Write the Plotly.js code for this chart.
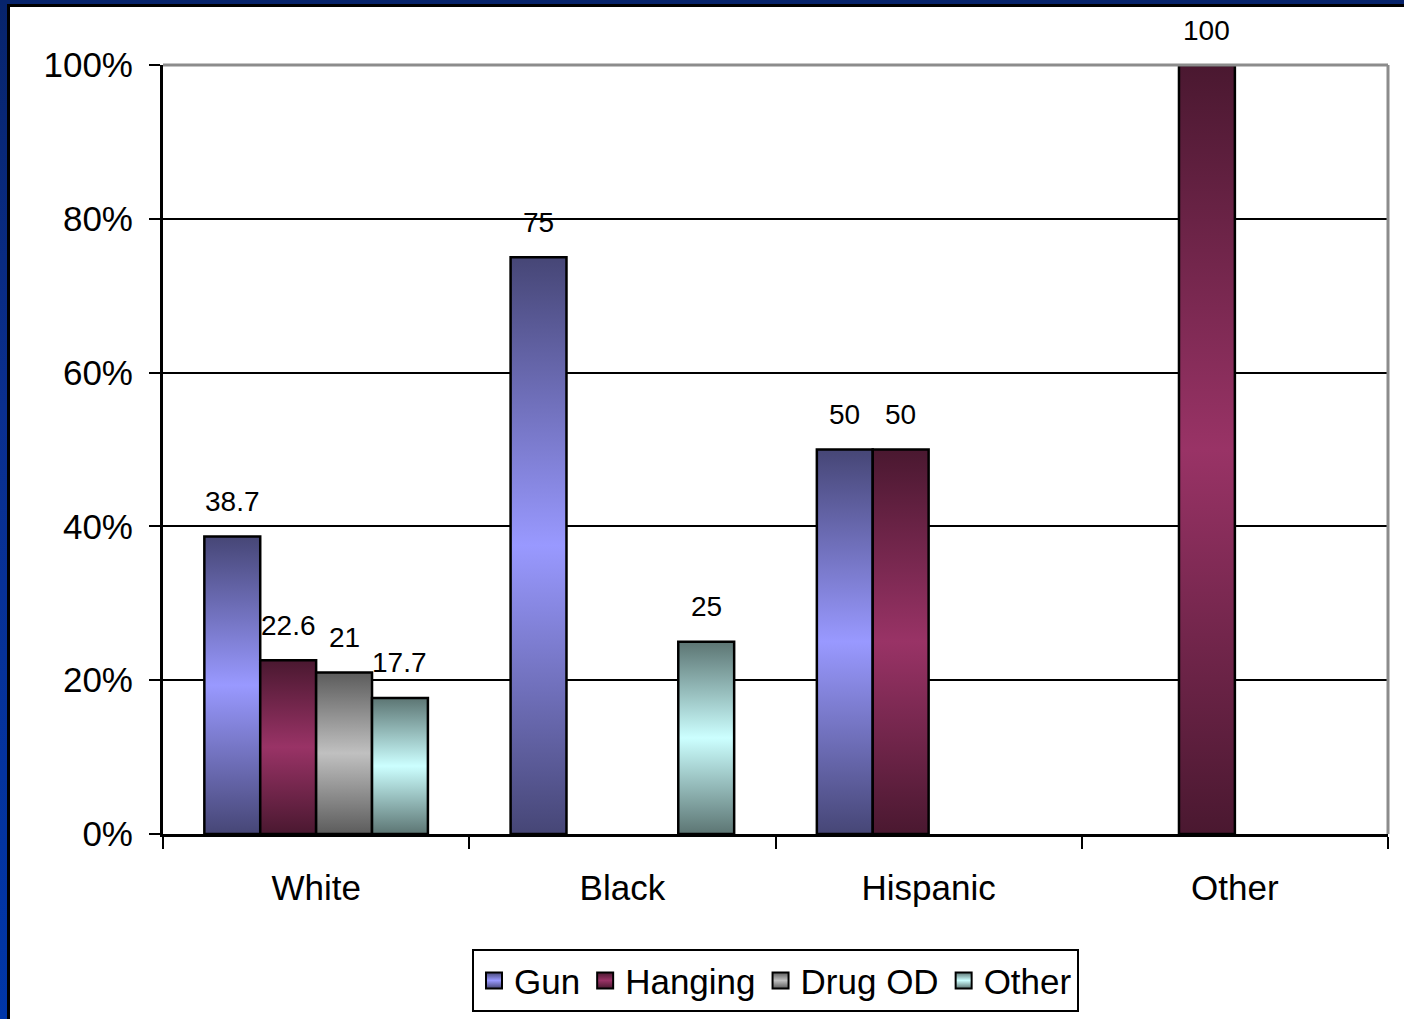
<!DOCTYPE html>
<html>
<head>
<meta charset="utf-8">
<script src="https://cdn.plot.ly/plotly-3.0.1.min.js"></script>
<style>
  html, body { margin: 0; padding: 0; width: 1404px; height: 1019px; overflow: hidden; }
  body { background: linear-gradient(to bottom, #07246c 0%, #0a2f8f 40%, #0036a8 100%); position: relative; }
  #frame { position: absolute; left: 7px; top: 4px; width: 1397px; height: 1015px;
           border-left: 3px solid #000; border-top: 3px solid #000; background: #fff; }
  #chart { position: absolute; left: 0; top: 0; width: 1394px; height: 1012px; }
</style>
</head>
<body>
<div id="frame"><div id="chart"></div></div>
<script>
// ---- data ----
const categories = ["White", "Black", "Hispanic", "Other"];
const seriesNames = ["Gun", "Hanging", "Drug OD", "Other"];
const gunValues     = [38.7, 75, 50, null];
const hangingValues = [22.6, null, 50, 100];
const drugValues    = [21, null, null, null];
const otherValues   = [17.7, 25, null, null];
const yTickValues = [0, 20, 40, 60, 80, 100];
const yTickLabels = ["0%", "20%", "40%", "60%", "80%", "100%"];

// ---- styles ----
const seriesValues = [gunValues, hangingValues, drugValues, otherValues];
const lightColors = ["#9999ff", "#993366", "#c0c0c0", "#ccffff"];
const darkColors  = ["#464676", "#4a1830", "#5c5c5c", "#5c7573"];
const FONT = "Liberation Sans, Arial, sans-serif";
const bargap = 0.27;

const traces = seriesNames.map((name, i) => ({
  type: "bar",
  name: name,
  x: categories,
  y: seriesValues[i],
  marker: { color: lightColors[i], line: { color: "#000", width: 2.5 } },
  hoverinfo: "none"
}));

const L = 153, R = 16, T = 58, B = 185;
const W = 1394, H = 1012;
const plotW = W - L - R;
const slotPx = plotW / categories.length * (1 - bargap) / seriesNames.length;

const annotations = [];
seriesValues.forEach((vals, i) => {
  vals.forEach((v, j) => {
    if (v === null) return;
    annotations.push({
      x: categories[j], y: v, xref: "x", yref: "y",
      text: String(v), showarrow: false,
      xshift: (i - (seriesNames.length - 1) / 2) * slotPx,
      yshift: 35, yanchor: "middle",
      font: { family: FONT, size: 28, color: "#000" }
    });
  });
});

const layout = {
  width: W, height: H,
  margin: { l: L, r: R, t: T, b: B, autoexpand: false },
  paper_bgcolor: "#ffffff",
  plot_bgcolor: "#ffffff",
  barmode: "group",
  bargap: bargap,
  bargroupgap: 0,
  showlegend: true,
  font: { family: FONT, color: "#000" },
  xaxis: {
    type: "category",
    range: [-0.5, categories.length - 0.5],
    showline: true, linecolor: "#000", linewidth: 3,
    ticks: "outside", tickson: "boundaries", ticklen: 12, tickwidth: 2, tickcolor: "#000",
    showgrid: false, zeroline: false,
    tickfont: { family: FONT, size: 35, color: "#000" },
    ticklabelstandoff: 21,
    automargin: false,
    fixedrange: true
  },
  yaxis: {
    range: [0, 100],
    tickvals: yTickValues, ticktext: yTickLabels,
    showline: true, linecolor: "#000", linewidth: 3,
    ticks: "outside", ticklen: 11, tickwidth: 2, tickcolor: "#000",
    showgrid: true, gridcolor: "#000", gridwidth: 2,
    zeroline: false,
    tickfont: { family: FONT, size: 35, color: "#000" },
    ticklabelstandoff: 9,
    automargin: false,
    fixedrange: true
  },
  legend: {
    orientation: "h",
    xref: "paper", x: 0.5, xanchor: "center",
    yref: "container", y: 0.069, yanchor: "top",
    bgcolor: "#fff", bordercolor: "#000", borderwidth: 2,
    font: { family: FONT, size: 35, color: "#000" },
    itemclick: false, itemdoubleclick: false,
    traceorder: "normal"
  },
  shapes: [
    { type: "line", xref: "paper", yref: "paper", x0: 0, x1: 1, y0: 1, y1: 1,
      line: { color: "#8c8c8c", width: 3 }, layer: "above" },
    { type: "line", xref: "paper", yref: "paper", x0: 1, x1: 1, y0: 0, y1: 1,
      line: { color: "#8c8c8c", width: 3 }, layer: "above" }
  ],
  annotations: annotations
};

Plotly.newPlot("chart", traces, layout, { staticPlot: true, displayModeBar: false }).then(gd => {
  const svg = gd.querySelector("svg.main-svg");
  let defs = svg.querySelector("defs");
  const NS = "http://www.w3.org/2000/svg";
  if (!defs) { defs = document.createElementNS(NS, "defs"); svg.insertBefore(defs, svg.firstChild); }
  lightColors.forEach((c, i) => {
    const g = document.createElementNS(NS, "linearGradient");
    g.setAttribute("id", "barGrad" + i);
    g.setAttribute("x1", "0"); g.setAttribute("y1", "0");
    g.setAttribute("x2", "0"); g.setAttribute("y2", "1");
    [[0, darkColors[i]], [0.5, c], [1, darkColors[i]]].forEach(([o, col]) => {
      const s = document.createElementNS(NS, "stop");
      s.setAttribute("offset", o);
      s.setAttribute("stop-color", col);
      g.appendChild(s);
    });
    defs.appendChild(g);
  });
  gd.querySelectorAll(".barlayer .trace").forEach((tr, i) => {
    tr.querySelectorAll("path").forEach(p => { p.style.fill = "url(#barGrad" + i + ")"; });
  });
  gd.querySelectorAll(".legend .traces").forEach((tr, i) => {
    tr.querySelectorAll(".legendpoints path").forEach(p => {
      p.setAttribute("d", "M8,8H-8V-8H8Z");
      p.style.fill = "url(#barGrad" + i + ")";
      p.style.strokeWidth = "2px";
    });
  });
});
</script>
</body>
</html>
